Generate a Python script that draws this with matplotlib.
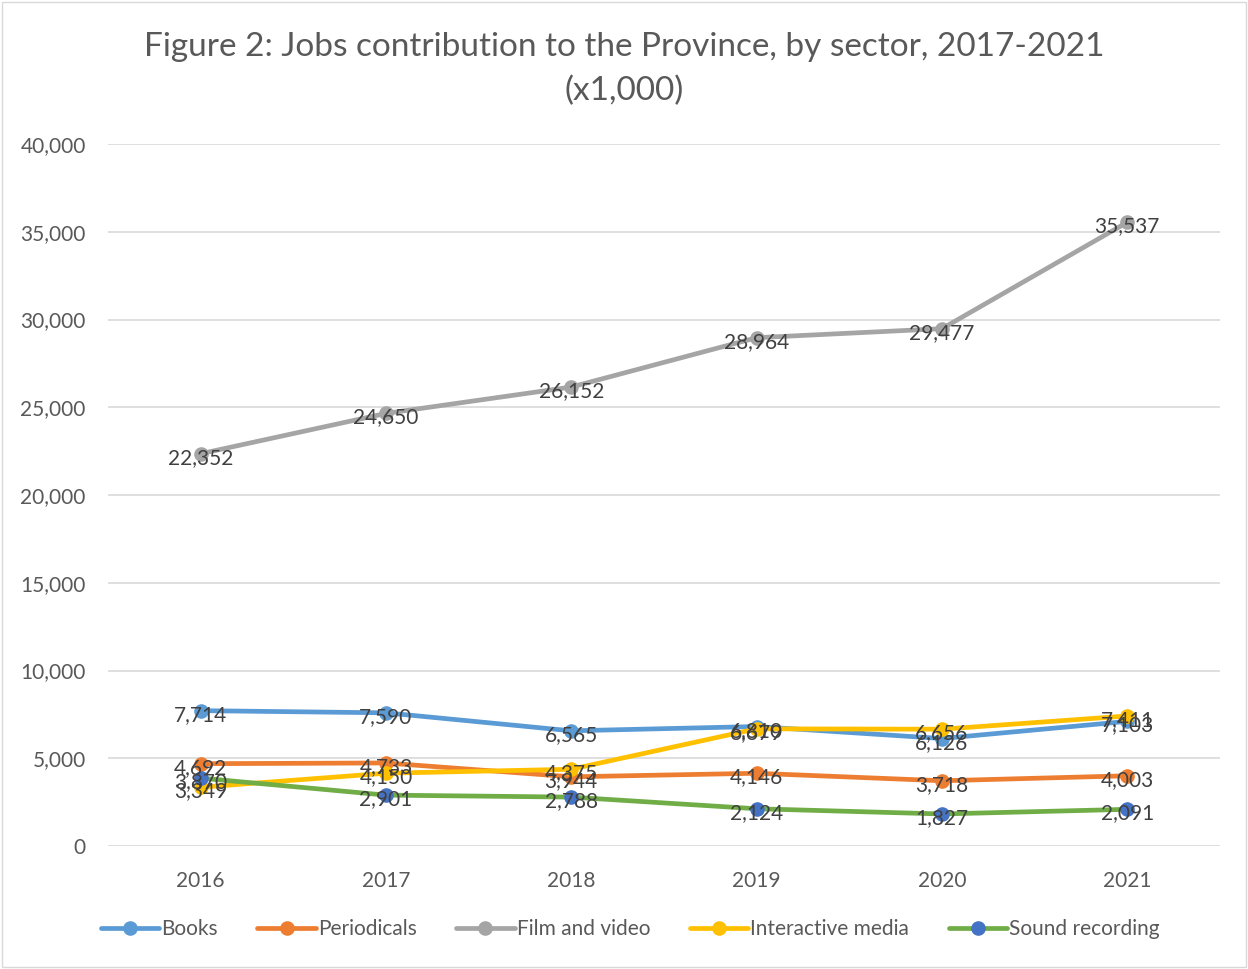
import matplotlib
matplotlib.use("Agg")
import matplotlib.pyplot as plt
from matplotlib.patches import Rectangle

plt.rcParams['font.family'] = ['Lato', 'DejaVu Sans']

years = ["2016", "2017", "2018", "2019", "2020", "2021"]
series_names = ["Books", "Periodicals", "Film and video", "Interactive media", "Sound recording"]
books = [7714, 7590, 6565, 6810, 6126, 7103]
periodicals = [4692, 4733, 3944, 4146, 3718, 4003]
film_video = [22352, 24650, 26152, 28964, 29477, 35537]
interactive = [3349, 4150, 4375, 6679, 6656, 7411]
sound = [3870, 2901, 2788, 2124, 1827, 2091]

line_colors = ["#5b9bd5", "#ed7d31", "#a5a5a5", "#ffc000", "#70ad47"]
marker_colors = ["#5b9bd5", "#ed7d31", "#a5a5a5", "#ffc000", "#4472c4"]

fig = plt.figure(figsize=(12.48, 9.69), dpi=100)
ax = fig.add_axes([0.0865, 0.1269, 0.891, 0.7245])

x = list(range(len(years)))
all_series = [books, periodicals, film_video, interactive, sound]
for name, vals, lc, mc in zip(series_names, all_series, line_colors, marker_colors):
    ax.plot(x, vals, color=lc, lw=3.4, marker='o', ms=9.5, mfc=mc, mec=mc,
            label=name, solid_capstyle='round', zorder=3)

for vals in all_series:
    for xi, v in zip(x, vals):
        ax.annotate(f"{v:,}", (xi, v), xytext=(0, -3), textcoords='offset points',
                    ha='center', va='center', fontsize=15, color='#404040', zorder=5)

ax.set_xlim(-0.5, 5.5)
ax.set_ylim(0, 40000)
ax.set_yticks(range(0, 40001, 5000))
ax.set_yticklabels([f"{t:,}" for t in range(0, 40001, 5000)])
ax.set_xticks(x)
ax.set_xticklabels(years)
ax.tick_params(axis='both', length=0, labelsize=15, labelcolor='#595959')
ax.tick_params(axis='x', pad=18)
ax.tick_params(axis='y', pad=16)
ax.grid(axis='y', color='#d9d9d9', lw=1.2, zorder=0)
for s in ax.spines.values():
    s.set_visible(False)

fig.text(0.5, 0.952, "Figure 2: Jobs contribution to the Province, by sector, 2017-2021",
         ha='center', va='center', fontsize=24, color='#595959')
fig.text(0.5, 0.906, "(x1,000)", ha='center', va='center', fontsize=24, color='#595959')

leg = fig.legend(loc='center', bbox_to_anchor=(0.505, 0.041), ncol=5, frameon=False,
                 fontsize=15, handlelength=2.8, columnspacing=1.9, handletextpad=0.1)
for t in leg.get_texts():
    t.set_color('#595959')

fig.patches.append(Rectangle((0.002, 0.002), 0.996, 0.996, transform=fig.transFigure,
                             fill=False, ec='#d9d9d9', lw=1))

fig.savefig("out.png", dpi=100)
